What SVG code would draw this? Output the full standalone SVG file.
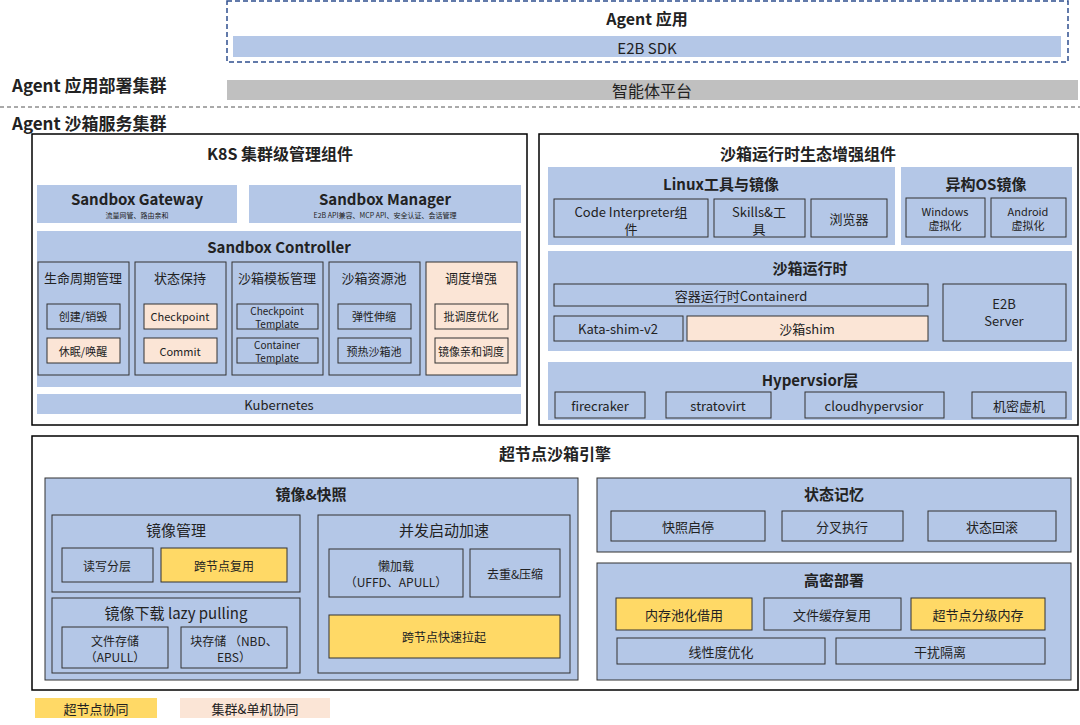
<svg xmlns="http://www.w3.org/2000/svg" width="1080" height="725" viewBox="0 0 1080 725">
<style>
text{font-family:"Microsoft YaHei","Noto Sans CJK SC","Noto Sans",sans-serif;fill:#222;text-anchor:middle;dominant-baseline:central}
.b{font-weight:bold}
.bl{fill:#b4c7e7}
.bx{fill:#b4c7e7;stroke:#333;stroke-width:1}
.pc{fill:#fbe5d6;stroke:#333;stroke-width:1}
.yl{fill:#ffd966;stroke:#333;stroke-width:1}
.fr{fill:#fff;stroke:#000;stroke-width:1.5}
.t13{font-size:13px}.t12{font-size:12px}.t11{font-size:11px}.t10{font-size:10px}.t15{font-size:15px}.t16{font-size:16px}
</style>
<rect width="1080" height="725" fill="#fff"/>
<g id="agent-app">
<rect x="227" y="1" width="841" height="61" fill="none" stroke="#2f4f8f" stroke-width="1.5" stroke-dasharray="5,3"/>
<text x="647" y="18" class="b t16">Agent 应用</text>
<rect x="233" y="36" width="828" height="21" class="bl"/>
<text x="647" y="47" class="t15">E2B SDK</text>
</g>
<g id="deploy">
<text x="12" y="84" class="b" style="font-size:17px;text-anchor:start">Agent 应用部署集群</text>
<rect x="227" y="80" width="851" height="20" fill="#c0c0c0"/>
<text x="652" y="90" class="t16">智能体平台</text>
<line x1="0" y1="107" x2="1080" y2="107" stroke="#555" stroke-dasharray="4,3"/>
<text x="12" y="122" class="b" style="font-size:17px;text-anchor:start">Agent 沙箱服务集群</text>
</g>
<g id="k8s">
<rect x="32" y="134" width="495" height="291" class="fr"/>
<text x="280" y="153" class="b t16">K8S 集群级管理组件</text>
<rect x="37" y="185" width="200" height="38" class="bl"/>
<text x="137" y="198" class="b t15">Sandbox Gateway</text>
<text x="137" y="215" style="font-size:7px">流量网管、路由亲和</text>
<rect x="249" y="185" width="272" height="38" class="bl"/>
<text x="385" y="198" class="b t15">Sandbox Manager</text>
<text x="385" y="215" style="font-size:7px">E2B API兼容、MCP API、安全认证、会话管理</text>
<rect x="37" y="231" width="484" height="156" class="bl"/>
<text x="279" y="246" class="b t15">Sandbox Controller</text>
<rect x="38" y="262" width="91" height="113" class="bx"/>
<text x="83" y="277" class="t13">生命周期管理</text>
<rect x="47" y="304" width="73" height="25" class="bx"/><text x="83" y="316" class="t11">创建/销毁</text>
<rect x="47" y="338" width="73" height="25" class="pc"/><text x="83" y="351" class="t11">休眠/唤醒</text>
<rect x="135" y="262" width="91" height="113" class="bx"/>
<text x="180" y="277" class="t13">状态保持</text>
<rect x="144" y="304" width="73" height="25" class="pc"/><text x="180" y="316" class="t11">Checkpoint</text>
<rect x="144" y="338" width="73" height="25" class="pc"/><text x="180" y="351" class="t11">Commit</text>
<rect x="232" y="262" width="91" height="113" class="bx"/>
<text x="277" y="277" class="t13">沙箱模板管理</text>
<rect x="237" y="304" width="81" height="25" class="bx"/><text x="277" y="310" class="t10">Checkpoint</text><text x="277" y="323" class="t10">Template</text>
<rect x="237" y="338" width="81" height="25" class="bx"/><text x="277" y="344" class="t10">Container</text><text x="277" y="357" class="t10">Template</text>
<rect x="329" y="262" width="91" height="113" class="bx"/>
<text x="374" y="277" class="t13">沙箱资源池</text>
<rect x="338" y="304" width="73" height="25" class="bx"/><text x="374" y="316" class="t11">弹性伸缩</text>
<rect x="338" y="338" width="73" height="25" class="bx"/><text x="374" y="351" class="t11">预热沙箱池</text>
<rect x="426" y="262" width="91" height="113" class="pc"/>
<text x="471" y="277" class="t13">调度增强</text>
<rect x="435" y="304" width="73" height="25" class="pc"/><text x="471" y="316" class="t11">批调度优化</text>
<rect x="435" y="338" width="73" height="25" class="pc"/><text x="471" y="351" class="t11">镜像亲和调度</text>
<rect x="37" y="394" width="484" height="20" class="bl"/>
<text x="279" y="404" class="t13">Kubernetes</text>
</g>
<g id="ecosystem">
<rect x="539" y="134" width="539" height="291" class="fr"/>
<text x="808" y="153" class="b t16">沙箱运行时生态增强组件</text>
<rect x="548" y="167" width="347" height="78" class="bl"/>
<text x="721" y="183" class="b t15">Linux工具与镜像</text>
<rect x="554" y="199" width="154" height="38" class="bx"/><text x="631" y="211" class="t13">Code Interpreter组</text><text x="631" y="228" class="t13">件</text>
<rect x="714" y="199" width="91" height="38" class="bx"/><text x="759" y="211" class="t13">Skills&amp;工</text><text x="759" y="228" class="t13">具</text>
<rect x="811" y="199" width="76" height="38" class="bx"/><text x="849" y="218" class="t13">浏览器</text>
<rect x="901" y="167" width="171" height="78" class="bl"/>
<text x="986" y="183" class="b t15">异构OS镜像</text>
<rect x="906" y="198" width="79" height="39" class="bx"/><text x="945" y="211" class="t11">Windows</text><text x="945" y="225" class="t11">虚拟化</text>
<rect x="991" y="198" width="75" height="39" class="bx"/><text x="1028" y="211" class="t11">Android</text><text x="1028" y="225" class="t11">虚拟化</text>
<rect x="548" y="251" width="524" height="100" class="bl"/>
<text x="810" y="267" class="b t15">沙箱运行时</text>
<rect x="554" y="284" width="374" height="22" class="bx"/><text x="741" y="295" class="t13">容器运行时Containerd</text>
<rect x="554" y="316" width="129" height="25" class="bx"/><text x="618" y="328" class="t13">Kata-shim-v2</text>
<rect x="687" y="316" width="241" height="25" class="pc"/><text x="807" y="328" class="t13">沙箱shim</text>
<rect x="943" y="284" width="123" height="57" class="bx"/><text x="1004" y="303" class="t13">E2B</text><text x="1004" y="320" class="t13">Server</text>
<rect x="548" y="362" width="524" height="58" class="bl"/>
<text x="810" y="379" class="b t15">Hypervsior层</text>
<rect x="555" y="392" width="90" height="26" class="bx"/><text x="600" y="405" class="t13">firecraker</text>
<rect x="666" y="392" width="105" height="26" class="bx"/><text x="718" y="405" class="t13">stratovirt</text>
<rect x="805" y="392" width="139" height="26" class="bx"/><text x="874" y="405" class="t13">cloudhypervsior</text>
<rect x="972" y="392" width="94" height="26" class="bx"/><text x="1019" y="405" class="t13">机密虚机</text>
</g>
<g id="engine">
<rect x="32" y="436" width="1046" height="254" class="fr"/>
<text x="555" y="453" class="b t16">超节点沙箱引擎</text>
<rect x="45" y="478" width="533" height="202" class="bx"/>
<text x="311" y="493" class="b t15">镜像&amp;快照</text>
<rect x="52" y="515" width="248" height="77" class="bx"/>
<text x="176" y="529" class="t15">镜像管理</text>
<rect x="62" y="548" width="91" height="34" class="bx"/><text x="107" y="565" class="t12">读写分层</text>
<rect x="161" y="548" width="126" height="34" class="yl"/><text x="224" y="565" class="t12">跨节点复用</text>
<rect x="52" y="598" width="248" height="75" class="bx"/>
<text x="176" y="612" class="t15">镜像下载 lazy pulling</text>
<rect x="62" y="627" width="106" height="41" class="bx"/><text x="115" y="640" class="t12">文件存储</text><text x="115" y="656" class="t12">（APULL）</text>
<rect x="181" y="627" width="106" height="41" class="bx"/><text x="234" y="640" class="t12">块存储 （NBD、</text><text x="234" y="656" class="t12">EBS）</text>
<rect x="318" y="515" width="252" height="158" class="bx"/>
<text x="444" y="529" class="t15">并发启动加速</text>
<rect x="329" y="549" width="134" height="48" class="bx"/><text x="396" y="565" class="t12">懒加载</text><text x="396" y="581" class="t12">（UFFD、APULL）</text>
<rect x="470" y="549" width="90" height="48" class="bx"/><text x="515" y="573" class="t12">去重&amp;压缩</text>
<rect x="329" y="615" width="231" height="43" class="yl"/><text x="444" y="636" class="t12">跨节点快速拉起</text>
<rect x="597" y="478" width="474" height="74" class="bx"/>
<text x="834" y="493" class="b t15">状态记忆</text>
<rect x="611" y="511" width="154" height="30" class="bx"/><text x="688" y="526" class="t13">快照启停</text>
<rect x="782" y="511" width="121" height="30" class="bx"/><text x="842" y="526" class="t13">分叉执行</text>
<rect x="928" y="511" width="128" height="30" class="bx"/><text x="992" y="526" class="t13">状态回滚</text>
<rect x="597" y="563" width="474" height="117" class="bx"/>
<text x="834" y="579" class="b t15">高密部署</text>
<rect x="616" y="598" width="136" height="32" class="yl"/><text x="684" y="614" class="t13">内存池化借用</text>
<rect x="764" y="598" width="137" height="32" class="bx"/><text x="832" y="614" class="t13">文件缓存复用</text>
<rect x="911" y="598" width="134" height="32" class="yl"/><text x="978" y="614" class="t13">超节点分级内存</text>
<rect x="617" y="638" width="208" height="26" class="bx"/><text x="721" y="651" class="t13">线性度优化</text>
<rect x="836" y="638" width="209" height="26" class="bx"/><text x="940" y="651" class="t13">干扰隔离</text>
</g>
<g id="legend">
<rect x="35" y="698" width="122" height="20" fill="#ffd966"/><text x="96" y="708" class="t13">超节点协同</text>
<rect x="180" y="698" width="150" height="20" fill="#fbe5d6"/><text x="255" y="708" class="t13">集群&amp;单机协同</text>
</g>
<g id="connectors"/>
</svg>
